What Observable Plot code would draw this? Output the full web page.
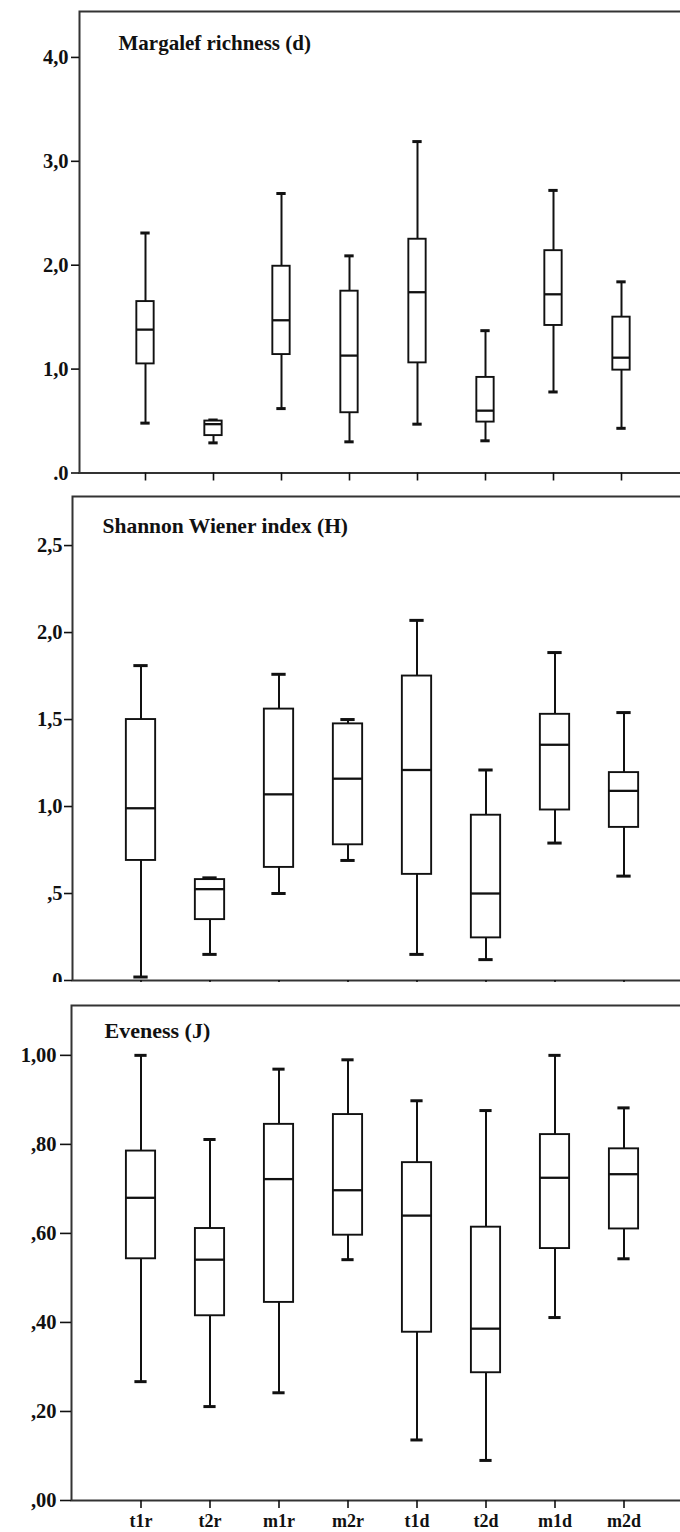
<!DOCTYPE html>
<html><head><meta charset="utf-8">
<script src="https://cdn.jsdelivr.net/npm/d3@7"></script>
<script src="https://cdn.jsdelivr.net/npm/@observablehq/plot@0.6"></script>
<style>
body{margin:0;background:#fff;}
#wrap{width:680px;height:1532px;overflow:hidden;position:relative;background:#fff;}
#wrap svg{display:block;}
</style></head><body><div id="wrap"></div>
<script>
const categories = ["t1r","t2r","m1r","m2r","t1d","t2d","m1d","m2d"];

// Margalef richness (d)
const margalefMin    = [0.48, 0.29, 0.62, 0.30, 0.47, 0.31, 0.78, 0.43];
const margalefQ1     = [1.05, 0.36, 1.14, 0.58, 1.06, 0.49, 1.42, 0.99];
const margalefMedian = [1.38, 0.47, 1.47, 1.13, 1.74, 0.60, 1.72, 1.11];
const margalefQ3     = [1.65, 0.50, 1.99, 1.75, 2.25, 0.92, 2.14, 1.50];
const margalefMax    = [2.31, 0.51, 2.69, 2.09, 3.19, 1.37, 2.72, 1.84];
const margalefTicks  = [0, 1, 2, 3, 4];
const margalefLabels = [".0", "1,0", "2,0", "3,0", "4,0"];

// Shannon Wiener index (H)
const shannonMin    = [0.02, 0.15, 0.50, 0.69, 0.15, 0.12, 0.79, 0.60];
const shannonQ1     = [0.69, 0.35, 0.65, 0.78, 0.61, 0.245, 0.98, 0.88];
const shannonMedian = [0.99, 0.525, 1.07, 1.16, 1.21, 0.50, 1.355, 1.09];
const shannonQ3     = [1.50, 0.58, 1.56, 1.475, 1.75, 0.95, 1.53, 1.195];
const shannonMax    = [1.81, 0.59, 1.76, 1.50, 2.07, 1.21, 1.885, 1.54];
const shannonTicks  = [0, 0.5, 1, 1.5, 2, 2.5];
const shannonLabels = ["0", ",5", "1,0", "1,5", "2,0", "2,5"];

// Eveness (J)
const evenMin    = [0.267, 0.211, 0.242, 0.541, 0.136, 0.090, 0.411, 0.543];
const evenQ1     = [0.543, 0.415, 0.445, 0.596, 0.378, 0.287, 0.566, 0.610];
const evenMedian = [0.680, 0.541, 0.722, 0.697, 0.640, 0.386, 0.725, 0.733];
const evenQ3     = [0.785, 0.611, 0.845, 0.867, 0.759, 0.614, 0.822, 0.790];
const evenMax    = [1.000, 0.811, 0.969, 0.990, 0.898, 0.876, 1.000, 0.882];
const evenTicks  = [0, 0.2, 0.4, 0.6, 0.8, 1.0];
const evenLabels = [",00", ",20", ",40", ",60", ",80", "1,00"];

const FONT = "'Liberation Serif', 'Times New Roman', serif";

function panel(o) {
  const rows = categories.map((c, i) => ({cat: c, min: o.mins[i], q1: o.q1s[i], med: o.meds[i], q3: o.q3s[i], max: o.maxs[i]}));
  const width = 700;
  const step = (width - o.marginRight - o.marginLeft) / (categories.length + 2 * o.paddingOuter);
  const boxInset = (step - o.boxW) / 2;
  const capInset = (step - o.capW) / 2;
  return Plot.plot({
    width, height: o.height,
    marginTop: o.marginTop, marginBottom: o.marginBottom, marginLeft: o.marginLeft, marginRight: o.marginRight,
    style: {maxWidth: "none", fontFamily: FONT, fontWeight: "bold", color: "#111", background: "#fff"},
    x: {type: "band", domain: categories, paddingInner: 0, paddingOuter: o.paddingOuter, label: null, axis: null},
    y: {domain: [0, o.yTop], label: null, axis: null},
    marks: [
      Plot.ruleX(rows, {x: "cat", y1: "min", y2: "q1", stroke: "#111", strokeWidth: 2}),
      Plot.ruleX(rows, {x: "cat", y1: "q3", y2: "max", stroke: "#111", strokeWidth: 2}),
      Plot.tickY(rows, {x: "cat", y: "min", insetLeft: capInset, insetRight: capInset, stroke: "#111", strokeWidth: 3}),
      Plot.tickY(rows, {x: "cat", y: "max", insetLeft: capInset, insetRight: capInset, stroke: "#111", strokeWidth: 3}),
      Plot.barY(rows, {x: "cat", y1: "q1", y2: "q3", insetLeft: boxInset, insetRight: boxInset, fill: "#fff", stroke: "#111", strokeWidth: 1.9}),
      Plot.tickY(rows, {x: "cat", y: "med", insetLeft: boxInset, insetRight: boxInset, stroke: "#111", strokeWidth: 2.3}),
      Plot.frame({stroke: "#333", strokeWidth: 2}),
      Plot.axisY(o.yTicks, {tickSize: o.yTickSize, tickPadding: o.yTickPadding, strokeWidth: 1.6, fontSize: 20.5,
        tickFormat: d => o.yLabels[o.yTicks.indexOf(d)]}),
      Plot.axisX(categories, {tickSize: 8, tickPadding: 6, strokeWidth: 1.6, fontSize: 18,
        tickFormat: o.showX ? (d => d) : (() => "")}),
      Plot.text([o.title], {frameAnchor: "top-left", dx: o.titleDx, dy: o.titleDy, textAnchor: "start", lineAnchor: "bottom", fontSize: o.titleSize, fontWeight: "bold", fill: "#111"})
    ]
  });
}

const wrap = document.getElementById("wrap");
wrap.appendChild(panel({
  title: "Margalef richness (d)", mins: margalefMin, q1s: margalefQ1, meds: margalefMedian, q3s: margalefQ3, maxs: margalefMax,
  yTop: 4.442, yTicks: margalefTicks, yLabels: margalefLabels, yTickSize: 8, yTickPadding: 3,
  height: 490, marginTop: 11, marginBottom: 17.5, marginLeft: 79, marginRight: 12.3, paddingOuter: 0.432,
  boxW: 18, capW: 10, showX: false, titleDx: 39, titleDy: 38.5, titleSize: 21
}));
wrap.appendChild(panel({
  title: "Shannon Wiener index (H)", mins: shannonMin, q1s: shannonQ1, meds: shannonMedian, q3s: shannonQ3, maxs: shannonMax,
  yTop: 2.782, yTicks: shannonTicks, yLabels: shannonLabels, yTickSize: 8, yTickPadding: 2,
  height: 492, marginTop: 6, marginBottom: 2, marginLeft: 72, marginRight: 8, paddingOuter: 0.447,
  boxW: 30, capW: 15, showX: false, titleDx: 30, titleDy: 36.7, titleSize: 21.5
}));
wrap.appendChild(panel({
  title: "Eveness (J)", mins: evenMin, q1s: evenQ1, meds: evenMedian, q3s: evenQ3, maxs: evenMax,
  yTop: 1.112, yTicks: evenTicks, yLabels: evenLabels, yTickSize: 11, yTickPadding: 4,
  height: 550, marginTop: 23, marginBottom: 32, marginLeft: 71, marginRight: 8, paddingOuter: 0.448,
  boxW: 30, capW: 13, showX: true, titleDx: 33, titleDy: 32, titleSize: 22
}));
</script>
</body></html>
